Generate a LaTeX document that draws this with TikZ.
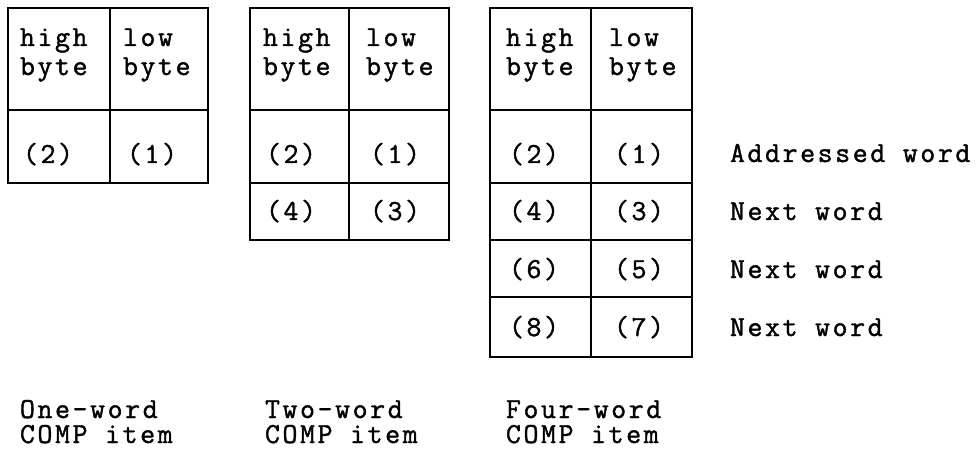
\documentclass[tikz,border=0pt]{standalone}
\usepackage{fontspec}
\setmonofont{Latin Modern Mono}[LetterSpace=9,FakeBold=1.4]
\begin{document}
\begin{tikzpicture}[x=1pt,y=-1pt,
  grid/.style={line width=2.6pt, line cap=rect},
  txt/.style={anchor=base west, inner sep=0pt, outer sep=0pt, font=\fontsize{29}{29}\ttfamily},
  two/.style={txt, align=left}]
\useasboundingbox (0,0) rectangle (979,454);
% table 1
\draw[grid] (8,8) rectangle (208,183);
\draw[grid] (110,8) -- (110,183);
\draw[grid] (8,110) -- (208,110);
% table 2
\draw[grid] (250,8) rectangle (449,240);
\draw[grid] (349,8) -- (349,240);
\foreach \y in {110,183} \draw[grid] (250,\y) -- (449,\y);
% table 3
\draw[grid] (490,8) rectangle (692,357);
\draw[grid] (591,8) -- (591,357);
\foreach \y in {110,183,240,297} \draw[grid] (490,\y) -- (692,\y);
% headers (base anchor = last line)
\foreach \n/\x/\s in {a/20/high, b/123/low, c/263/high, d/366/low, e/506/high, f/609/low}{
  \node[two] (h\n) at (\x,75) {\s\\byte};
}
% numbers
\node[txt] (n1a) at (23,163) {(2)};
\node[txt] (n1b) at (127,163) {(1)};
\node[txt] (n2a) at (266,163) {(2)};
\node[txt] (n2b) at (370,163) {(1)};
\node[txt] (n2c) at (266,220) {(4)};
\node[txt] (n2d) at (370,220) {(3)};
\node[txt] (n3a) at (509,163) {(2)};
\node[txt] (n3b) at (614,163) {(1)};
\node[txt] (n3c) at (509,220) {(4)};
\node[txt] (n3d) at (614,220) {(3)};
\node[txt] (n3e) at (509,278) {(6)};
\node[txt] (n3f) at (614,278) {(5)};
\node[txt] (n3g) at (509,336) {(8)};
\node[txt] (n3h) at (614,336) {(7)};
% right labels
\node[txt] (l1) at (730,162) {Addressed word};
\node[txt] (l2) at (730,220) {Next word};
\node[txt] (l3) at (730,278) {Next word};
\node[txt] (l4) at (730,336) {Next word};
% bottom labels (base anchor = last line)
\node[two, font=\fontsize{29}{25}\ttfamily] (c1) at (20,443) {One-word\\COMP item};
\node[two, font=\fontsize{29}{25}\ttfamily] (c2) at (265,443) {Two-word\\COMP item};
\node[two, font=\fontsize{29}{25}\ttfamily] (c3) at (506,443) {Four-word\\COMP item};
\end{tikzpicture}
\end{document}
